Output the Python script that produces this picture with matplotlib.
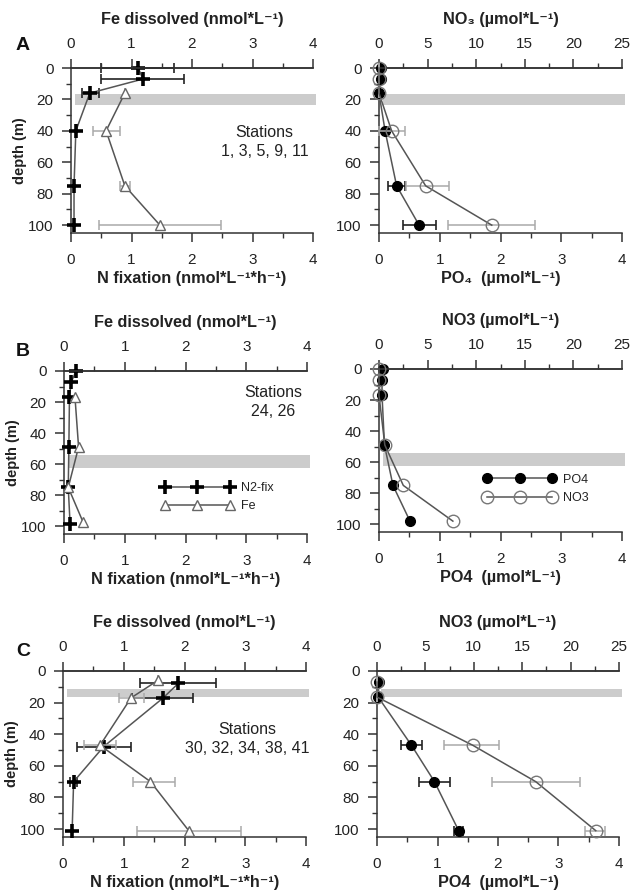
import matplotlib
matplotlib.use("Agg")
import matplotlib.pyplot as plt
from matplotlib.ticker import MultipleLocator

plt.rcParams["font.family"] = ["Liberation Sans", "DejaVu Sans"]

# ---- data (depth in m) ----
# Panel A, stations 1, 3, 5, 9, 11
a_nfix_depth = [0, 7, 16, 40, 75, 100]
a_nfix = [1.11, 1.19, 0.31, 0.08, 0.05, 0.05]
a_nfix_lo = [0.50, 0.50, 0.19, 0.08, 0.05, 0.05]
a_nfix_hi = [1.71, 1.87, 0.46, 0.08, 0.05, 0.05]
a_fe_depth = [16, 40, 75, 100]
a_fe = [0.89, 0.58, 0.89, 1.47]
a_fe_lo = [0.89, 0.37, 0.81, 0.47]
a_fe_hi = [0.89, 0.81, 0.97, 2.48]
a_po4_depth = [0, 7, 16, 40, 75, 100]
a_po4 = [0.03, 0.03, 0.0, 0.10, 0.29, 0.66]
a_po4_lo = [0.03, 0.03, 0.0, 0.10, 0.14, 0.40]
a_po4_hi = [0.03, 0.03, 0.0, 0.10, 0.43, 0.94]
a_no3_depth = [0, 7, 16, 40, 75, 100]
a_no3 = [0.0, 0.0, 0.0, 1.3, 4.8, 11.6]
a_no3_lo = [0.0, 0.0, 0.0, 0.0, 2.8, 7.1]
a_no3_hi = [0.0, 0.0, 0.0, 2.7, 7.2, 16.1]
a_band = (16.6, 23.4)

# Panel B, stations 24, 26
b_nfix_depth = [0, 7, 16.5, 49, 75, 98.5]
b_nfix = [0.20, 0.12, 0.09, 0.08, 0.07, 0.10]
b_fe_depth = [16.5, 49, 75, 97]
b_fe = [0.18, 0.24, 0.07, 0.31]
b_po4_depth = [0, 7, 17, 49, 75, 98]
b_po4 = [0.07, 0.05, 0.05, 0.09, 0.23, 0.51]
b_no3_depth = [0, 7, 17, 49, 75, 98]
b_no3 = [0.0, 0.0, 0.0, 0.6, 2.5, 7.6]
b_band = (54, 62.5)

# Panel C, stations 30, 32, 34, 38, 41
c_nfix_depth = [7.8, 17.3, 47.8, 70, 101.5]
c_nfix = [1.90, 1.64, 0.67, 0.175, 0.15]
c_nfix_lo = [1.26, 1.14, 0.23, 0.12, 0.15]
c_nfix_hi = [2.52, 2.14, 1.12, 0.23, 0.15]
c_fe_depth = [6, 17, 47, 70, 101]
c_fe = [1.56, 1.12, 0.61, 1.44, 2.07]
c_fe_lo = [1.56, 0.92, 0.35, 1.16, 1.21]
c_fe_hi = [1.56, 1.33, 0.87, 1.85, 2.93]
c_po4_depth = [7, 16.5, 47, 70, 101]
c_po4 = [0.03, 0.02, 0.57, 0.95, 1.35]
c_po4_lo = [0.03, 0.02, 0.40, 0.69, 1.27]
c_po4_hi = [0.03, 0.02, 0.74, 1.21, 1.42]
c_no3_depth = [7, 16.5, 47, 70, 101]
c_no3 = [0.0, 0.0, 9.9, 16.4, 22.6]
c_no3_lo = [0.0, 0.0, 6.9, 11.9, 21.5]
c_no3_hi = [0.0, 0.0, 12.6, 21.0, 23.6]
c_band = (11.4, 16.4)

W, H = 632, 890
TXT = "#222222"
LINE = "#555555"
ERR_GRAY = "#aaaaaa"
LABEL_FS = 11.7


def _rect(x0, x1, top, bottom):
    return [x0 / W, 1 - bottom / H, (x1 - x0) / W, (bottom - top) / H]


def _err(vals, lo, hi):
    return [[v - l for v, l in zip(vals, lo)], [h - v for v, h in zip(vals, hi)]]


def _style(ax, ax_top, top_max, top_major, top_minor, ylabel):
    ax.set_xlim(0, 4)
    ax.set_ylim(105, 0)
    ax_top.set_xlim(0, top_max)
    ax.xaxis.set_major_locator(MultipleLocator(1))
    ax.xaxis.set_minor_locator(MultipleLocator(0.5))
    ax.yaxis.set_major_locator(MultipleLocator(20))
    ax.yaxis.set_minor_locator(MultipleLocator(10))
    ax_top.xaxis.set_major_locator(MultipleLocator(top_major))
    ax_top.xaxis.set_minor_locator(MultipleLocator(top_minor))
    for a in (ax, ax_top):
        a.spines["right"].set_visible(False)
        for s in a.spines.values():
            s.set_linewidth(1.1)
            s.set_color("#333333")
        a.tick_params(which="major", direction="out", length=6.5, width=1.1,
                      colors="#333333", labelsize=11, labelcolor=TXT)
        a.tick_params(which="minor", direction="out", length=3.5, width=1.0,
                      colors="#333333")
    ax_top.spines["left"].set_visible(False)
    ax_top.spines["bottom"].set_visible(False)
    ax.tick_params(axis="x", pad=8)
    ax.tick_params(axis="y", pad=6)
    ax_top.tick_params(axis="x", pad=6)
    if ylabel:
        ax.set_ylabel("depth (m)", fontsize=10.5, fontweight="bold", color=TXT, labelpad=1)


def _band(ax, band):
    r = ax.axhspan(band[0], band[1], xmin=0.015, xmax=1.012, color="#cccccc",
                   lw=0, zorder=0)
    r.set_clip_on(False)


def _legend(ax_top, ax, handles, labels, xy):
    ax_top.legend(handles, labels, loc="center left", bbox_to_anchor=xy,
                  bbox_transform=ax.transAxes, frameon=False, numpoints=3,
                  handlelength=5.8, fontsize=9, borderpad=0, borderaxespad=0,
                  handletextpad=0.55, labelspacing=0.5, labelcolor=TXT)


def left_panel(rect, letter, nd, nv, nlo, nhi, fd, fv, flo, fhi, band, stations, st_xy,
               legend_xy=None):
    ax = fig.add_axes(rect)
    ax.patch.set_alpha(0)
    ax_top = ax.twiny()
    _style(ax, ax_top, 4, 1, 0.5, True)
    _band(ax, band)
    if nlo is not None:
        ax.errorbar(nv, nd, xerr=_err(nv, nlo, nhi), fmt="none", ecolor="#222222",
                    elinewidth=1.2, capsize=3.5, capthick=1.2, zorder=3, clip_on=False)
    if flo is not None:
        ax_top.errorbar(fv, fd, xerr=_err(fv, flo, fhi), fmt="none", ecolor=ERR_GRAY,
                        elinewidth=1.1, capsize=3.5, capthick=1.1, zorder=3, clip_on=False)
    h1, = ax.plot(nv, nd, color=LINE, lw=1.1, marker="+", ms=10, mew=2.6, mec="black",
                  zorder=4, clip_on=False, label="N2-fix")
    h2, = ax_top.plot(fv, fd, color=LINE, lw=1.1, marker="^", ms=6.5, mew=1.0,
                      mec="#666666", mfc="white", zorder=4, clip_on=False, label="Fe")
    ax_top.set_xlabel("Fe dissolved (nmol*L\u207b\u00b9)", fontsize=LABEL_FS,
                      fontweight="bold", color=TXT, labelpad=9)
    ax.set_xlabel("N fixation (nmol*L\u207b\u00b9*h\u207b\u00b9)", fontsize=LABEL_FS,
                  fontweight="bold", color=TXT, labelpad=3)
    ax_top.text(st_xy[0], st_xy[1], stations, transform=ax.transAxes, ha="center",
                va="center", fontsize=11.5, color=TXT, linespacing=1.3)
    fig.text(23 / W, 1 - letter[1] / H, letter[0], fontsize=14, fontweight="bold",
             ha="center", va="center", color="#111111")
    if legend_xy is not None:
        _legend(ax_top, ax, [h1, h2], ["N2-fix", "Fe"], legend_xy)
    return ax


def right_panel(rect, pd, pv, plo, phi, qd, qv, qlo, qhi, band, top_label, bot_label,
                legend_xy=None):
    ax = fig.add_axes(rect)
    ax.patch.set_alpha(0)
    ax_top = ax.twiny()
    _style(ax, ax_top, 25, 5, 2.5, False)
    _band(ax, band)
    if plo is not None:
        ax.errorbar(pv, pd, xerr=_err(pv, plo, phi), fmt="none", ecolor="#222222",
                    elinewidth=1.2, capsize=3.5, capthick=1.2, zorder=3, clip_on=False)
    if qlo is not None:
        ax_top.errorbar(qv, qd, xerr=_err(qv, qlo, qhi), fmt="none", ecolor=ERR_GRAY,
                        elinewidth=1.1, capsize=3.5, capthick=1.1, zorder=3, clip_on=False)
    h1, = ax.plot(pv, pd, color=LINE, lw=1.1, marker="o", ms=7, mec="black",
                  mfc="black", zorder=5, clip_on=False, label="PO4")
    h2, = ax_top.plot(qv, qd, color=LINE, lw=1.1, marker="o", ms=9, mew=1.0,
                      mec="#777777", mfc="none", zorder=4, clip_on=False, label="NO3")
    ax_top.set_xlabel(top_label, fontsize=LABEL_FS, fontweight="bold", color=TXT, labelpad=9)
    ax.set_xlabel(bot_label, fontsize=LABEL_FS, fontweight="bold", color=TXT, labelpad=3)
    if legend_xy is not None:
        _legend(ax_top, ax, [h1, h2], ["PO4", "NO3"], legend_xy)
    return ax


fig = plt.figure(figsize=(W / 100, H / 100), dpi=100, facecolor="white")

# A
left_panel(_rect(71, 313, 68, 233), ("A", 46), a_nfix_depth, a_nfix, a_nfix_lo, a_nfix_hi,
           a_fe_depth, a_fe, a_fe_lo, a_fe_hi, a_band, "Stations\n1, 3, 5, 9, 11",
           (0.80, 0.55))
right_panel(_rect(379, 622, 68, 233), a_po4_depth, a_po4, a_po4_lo, a_po4_hi,
            a_no3_depth, a_no3, a_no3_lo, a_no3_hi, a_band,
            "NO\u2083 (\u00b5mol*L\u207b\u00b9)", "PO\u2084  (\u00b5mol*L\u207b\u00b9)")

# B
left_panel(_rect(64, 307, 371, 534), ("B", 352), b_nfix_depth, b_nfix, None, None,
           b_fe_depth, b_fe, None, None, b_band, "Stations\n24, 26", (0.86, 0.81),
           legend_xy=(0.40, 0.225))
right_panel(_rect(379, 622, 369, 532), b_po4_depth, b_po4, None, None,
            b_no3_depth, b_no3, None, None, b_band,
            "NO3 (\u00b5mol*L\u207b\u00b9)", "PO4  (\u00b5mol*L\u207b\u00b9)",
            legend_xy=(0.43, 0.265))

# C
left_panel(_rect(63, 306, 671, 837), ("C", 651), c_nfix_depth, c_nfix, c_nfix_lo, c_nfix_hi,
           c_fe_depth, c_fe, c_fe_lo, c_fe_hi, c_band,
           "Stations\n30, 32, 34, 38, 41", (0.76, 0.59))
right_panel(_rect(377, 619, 671, 837), c_po4_depth, c_po4, c_po4_lo, c_po4_hi,
            c_no3_depth, c_no3, c_no3_lo, c_no3_hi, c_band,
            "NO3 (\u00b5mol*L\u207b\u00b9)", "PO4  (\u00b5mol*L\u207b\u00b9)")

fig.savefig("out.png", dpi=100, facecolor="white")
plt.close(fig)
